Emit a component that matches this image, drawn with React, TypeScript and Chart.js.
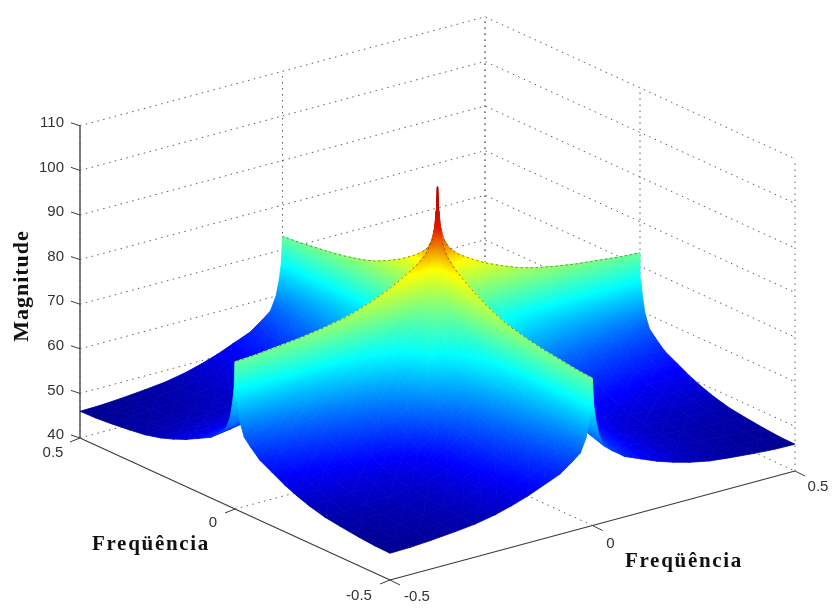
import React, { useEffect, useRef } from "react";
import { Chart, registerables } from "chart.js";

Chart.register(...registerables);

// Distance from zero frequency, one quadrant of the symmetric spectrum
const freqOffsets = [0, 0.003, 0.008, 0.016, 0.03, 0.05, 0.08, 0.12, 0.16, 0.2, 0.24, 0.29, 0.34, 0.4, 0.45, 0.5];

// Magnitude, rows and columns follow freqOffsets
const magnitudeQuadrant = [
  [100, 94.5, 90.5, 87.8, 85.5, 83.8, 82, 80, 78.4, 77, 76, 75.1, 74.4, 73.8, 73.3, 73],
  [94.5, 88, 85, 82.3, 80, 78.3, 76.5, 74.5, 72.9, 71.5, 70.5, 69.6, 68.9, 68.3, 67.8, 67],
  [90.5, 85, 83, 78.3, 76, 74.3, 72.5, 70.5, 68.9, 67.5, 66.5, 65.6, 64.9, 64.3, 63.8, 63.5],
  [87.8, 82.3, 78.3, 78, 75.5, 72.8, 71, 69, 67.4, 66, 65, 64, 63, 62, 61, 60],
  [85.5, 80, 76, 75.5, 74.5, 72.5, 70, 67.5, 66, 64.5, 63.3, 62, 61, 59.5, 58.2, 57],
  [83.8, 78.3, 74.3, 72.8, 72.5, 71, 68.8, 65.5, 63.5, 62, 60.8, 59.5, 58.5, 57.5, 56.4, 55.5],
  [82, 76.5, 72.5, 71, 70, 68.8, 67.5, 63.5, 61, 59.3, 58, 57, 56, 55, 54.2, 53.5],
  [80, 74.5, 70.5, 69, 67.5, 65.5, 63.5, 61.5, 58.8, 56.8, 55.5, 54.5, 53.8, 53, 52.5, 52],
  [78.4, 72.9, 68.9, 67.4, 66, 63.5, 61, 58.8, 56.5, 54.5, 53, 52.3, 51.8, 51.2, 50.8, 50.5],
  [77, 71.5, 67.5, 66, 64.5, 62, 59.3, 56.8, 54.5, 52.5, 51.3, 50.7, 50.3, 49.9, 49.6, 49.3],
  [76, 70.5, 66.5, 65, 63.3, 60.8, 58, 55.5, 53, 51.3, 50.3, 49.6, 49.2, 48.9, 48.6, 48.3],
  [75.1, 69.6, 65.6, 64, 62, 59.5, 57, 54.5, 52.3, 50.7, 49.6, 48.8, 48.3, 48, 47.7, 47.4],
  [74.4, 68.9, 64.9, 63, 61, 58.5, 56, 53.8, 51.8, 50.3, 49.2, 48.3, 47.8, 47.4, 47.2, 46.9],
  [73.8, 68.3, 64.3, 62, 59.5, 57.5, 55, 53, 51.2, 49.9, 48.9, 48, 47.4, 47, 46.7, 46.4],
  [73.3, 67.8, 63.8, 61, 58.2, 56.4, 54.2, 52.5, 50.8, 49.6, 48.6, 47.7, 47.2, 46.7, 46.5, 46.1],
  [73, 67, 63.5, 60, 57, 55.5, 53.5, 52, 50.5, 49.3, 48.3, 47.4, 46.9, 46.4, 46.1, 46],
];

const magnitudeTicks = [40, 50, 60, 70, 80, 90, 100, 110];
const freqTicks = [-0.5, 0, 0.5];
const magnitudeTitle = "Magnitude";
const freqTitle = "Freqüência";

const WIDTH = 833;
const HEIGHT = 608;
const Z_MIN = 40;
const Z_MAX = 110;

// Fixed 3-D view of the box, in the chart's plane
const project = (fx: number, fy: number, z: number) => ({
  x: 390 + (fx + 0.5) * 405 - (fy + 0.5) * 310,
  y: 580 - (fx + 0.5) * 109 - (fy + 0.5) * 142 - (z - Z_MIN) * 4.46,
});

// Colour ramp: magnitude at which each jet colour sits in the picture
const rampMagnitudes = [45, 51.5, 67, 82, 91, 100];
const rampColors = ["rgb(0,0,125)", "rgb(0,0,255)", "rgb(0,255,255)", "rgb(255,255,0)", "rgb(225,20,0)", "rgb(170,0,0)"];
const COLOR_MIN = rampMagnitudes[0];
const COLOR_MAX = rampMagnitudes[rampMagnitudes.length - 1];

type V = { fx: number; fy: number; z: number };

function triangleFill(chart: any, tri: V[]) {
  const sx = chart.scales.x;
  const sy = chart.scales.y;
  const pts = tri.map((v) => {
    const p = project(v.fx, v.fy, v.z);
    return { x: sx.getPixelForValue(p.x), y: sy.getPixelForValue(p.y), z: v.z };
  });
  const [a, b, c] = pts;
  if (!pts.every((p) => isFinite(p.x) && isFinite(p.y))) return "#000";
  const det = (b.x - a.x) * (c.y - a.y) - (c.x - a.x) * (b.y - a.y);
  const gx = ((b.z - a.z) * (c.y - a.y) - (c.z - a.z) * (b.y - a.y)) / det;
  const gy = ((b.x - a.x) * (c.z - a.z) - (c.x - a.x) * (b.z - a.z)) / det;
  const g2 = gx * gx + gy * gy;
  let grad;
  if (!isFinite(g2) || g2 < 1e-7) {
    // level triangle: a gradient wide enough to read as one colour
    const t = ((a.z + b.z + c.z) / 3 - COLOR_MIN) / (COLOR_MAX - COLOR_MIN);
    grad = chart.ctx.createLinearGradient(a.x - t * 20000, a.y, a.x + (1 - t) * 20000, a.y);
  } else {
    grad = chart.ctx.createLinearGradient(
      a.x + (gx / g2) * (COLOR_MIN - a.z),
      a.y + (gy / g2) * (COLOR_MIN - a.z),
      a.x + (gx / g2) * (COLOR_MAX - a.z),
      a.y + (gy / g2) * (COLOR_MAX - a.z)
    );
  }
  rampMagnitudes.forEach((m, k) => grad.addColorStop((m - COLOR_MIN) / (COLOR_MAX - COLOR_MIN), rampColors[k]));
  return grad;
}

const signedFreqs = () => {
  const out: { f: number; i: number }[] = [];
  for (let i = freqOffsets.length - 1; i > 0; i--) out.push({ f: -freqOffsets[i], i });
  for (let i = 0; i < freqOffsets.length; i++) out.push({ f: freqOffsets[i], i });
  return out;
};

function surfaceDatasets() {
  const g = signedFreqs();
  const quads: { key: number; corners: V[] }[] = [];
  for (let a = 0; a < g.length - 1; a++) {
    for (let b = 0; b < g.length - 1; b++) {
      const v = (p: number, q: number): V => ({
        fx: g[p].f,
        fy: g[q].f,
        z: magnitudeQuadrant[g[p].i][g[q].i],
      });
      quads.push({
        key: g[a].f + g[a + 1].f + g[b].f + g[b + 1].f,
        corners: [v(a, b), v(a + 1, b), v(a + 1, b + 1), v(a, b + 1)],
      });
    }
  }
  // nearest quad first: chart.js paints the later datasets underneath
  quads.sort((p, q) => p.key - q.key);
  const sets: any[] = [];
  quads.forEach(({ corners }) => {
    [
      [corners[0], corners[1], corners[2]],
      [corners[0], corners[2], corners[3]],
    ].forEach((tri) => {
      const paint = (c: any) => triangleFill(c.chart, tri);
      sets.push({
        data: [...tri, tri[0]].map((v) => project(v.fx, v.fy, v.z)),
        fill: "shape",
        backgroundColor: paint,
        borderColor: paint,
        borderWidth: 0.8,
        pointRadius: 0,
        tension: 0,
      });
    });
  });
  return sets;
}

const segment = (pts: { x: number; y: number }[], color: string, width: number, dash: number[] = []) => ({
  data: pts,
  fill: false,
  borderColor: color,
  borderWidth: width,
  borderDash: dash,
  pointRadius: 0,
  tension: 0,
});

function ridgeDatasets() {
  const outer = freqOffsets.slice(3);
  const sets: any[] = [];
  const ridge = outer.map((t, k) => ({ t, z: magnitudeQuadrant[0][k + 3] }));
  [1, -1].forEach((sign) => {
    sets.push(segment(ridge.map((r) => project(0, sign * r.t, r.z)), "rgba(70,55,35,0.6)", 1, [2, 3]));
    sets.push(segment(ridge.map((r) => project(sign * r.t, 0, r.z)), "rgba(70,55,35,0.6)", 1, [2, 3]));
  });
  return sets;
}

function boxDatasets() {
  const sets: any[] = [];
  const dotted = "#5c5c5c";
  const dash = [1.5, 4.5];
  const lo = freqTicks[0];
  const hi = freqTicks[freqTicks.length - 1];
  // back walls: magnitude lines
  magnitudeTicks.forEach((z) => {
    sets.push(segment([project(lo, hi, z), project(hi, hi, z), project(hi, lo, z)], dotted, 1, dash));
  });
  // wall verticals
  freqTicks.forEach((f) => {
    sets.push(segment([project(f, hi, Z_MIN), project(f, hi, Z_MAX)], dotted, 1, dash));
    sets.push(segment([project(hi, f, Z_MIN), project(hi, f, Z_MAX)], dotted, 1, dash));
  });
  // floor lines
  sets.push(segment([project(0, lo, Z_MIN), project(0, hi, Z_MIN)], dotted, 1, dash));
  sets.push(segment([project(lo, 0, Z_MIN), project(hi, 0, Z_MIN)], dotted, 1, dash));
  // solid axes
  const axis = "#3a3a3a";
  sets.push(segment([project(lo, hi, Z_MIN), project(lo, hi, Z_MAX)], axis, 1.3));
  sets.push(segment([project(lo, hi, Z_MIN), project(lo, lo, Z_MIN)], axis, 1.2));
  sets.push(segment([project(lo, lo, Z_MIN), project(hi, lo, Z_MIN)], axis, 1.2));
  // tick marks
  magnitudeTicks.forEach((z) => {
    const p = project(lo, hi, z);
    sets.push(segment([p, { x: p.x - 9, y: p.y - 3 }], axis, 1));
  });
  freqTicks.forEach((f) => {
    const l = project(lo, f, Z_MIN);
    sets.push(segment([l, { x: l.x - 10, y: l.y + 4 }], axis, 1));
    const r = project(f, lo, Z_MIN);
    sets.push(segment([r, { x: r.x + 10, y: r.y + 5 }], axis, 1));
  });
  return sets;
}

const textPlugin = {
  id: "boxText",
  afterDatasetsDraw(chart: any) {
    const { ctx, scales } = chart;
    const at = (p: { x: number; y: number }) => ({
      x: scales.x.getPixelForValue(p.x),
      y: scales.y.getPixelForValue(p.y),
    });
    const lo = freqTicks[0];
    ctx.save();
    ctx.fillStyle = "#333";
    ctx.font = '15px "Liberation Sans"';
    ctx.textBaseline = "middle";
    ctx.textAlign = "right";
    magnitudeTicks.forEach((z) => {
      const p = at(project(lo, freqTicks[2], z));
      ctx.fillText(String(z), p.x - 16, p.y - 3);
    });
    ctx.textAlign = "center";
    const leftShift = [
      [-31, 16],
      [-22, 14],
      [-27, 15],
    ];
    const rightShift = [
      [27, 17],
      [18, 18],
      [23, 16],
    ];
    freqTicks.forEach((f, k) => {
      const l = at(project(lo, f, Z_MIN));
      ctx.fillText(String(f), l.x + leftShift[k][0], l.y + leftShift[k][1]);
      const r = at(project(f, lo, Z_MIN));
      ctx.fillText(String(f), r.x + rightShift[k][0], r.y + rightShift[k][1]);
    });
    ctx.fillStyle = "#111";
    ctx.font = 'bold 21px "Liberation Serif"';
    ctx.letterSpacing = "1.7px";
    ctx.fillText(freqTitle, 151, 545);
    ctx.fillText(freqTitle, 684, 562);
    ctx.translate(22, 286);
    ctx.rotate(-Math.PI / 2);
    ctx.letterSpacing = "1px";
    ctx.font = 'bold 22px "Liberation Serif"';
    ctx.fillText(magnitudeTitle, 0, 0);
    ctx.restore();
  },
};

export default function App() {
  const ref = useRef<HTMLCanvasElement>(null);
  useEffect(() => {
    const chart = new Chart(ref.current as HTMLCanvasElement, {
      type: "line",
      data: {
        datasets: [...ridgeDatasets(), ...surfaceDatasets(), ...boxDatasets()] as any,
      },
      options: {
        animation: false,
        responsive: false,
        events: [],
        layout: { padding: 0 },
        plugins: { legend: { display: false }, tooltip: { enabled: false }, title: { display: false } },
        scales: {
          x: { type: "linear", min: 0, max: WIDTH, display: false },
          y: { type: "linear", min: 0, max: HEIGHT, reverse: true, display: false },
        },
      },
      plugins: [textPlugin],
    });
    return () => chart.destroy();
  }, []);
  return (
    <div style={{ position: "absolute", left: 0, top: 0, width: WIDTH, height: HEIGHT, background: "#fff" }}>
      <canvas ref={ref} width={WIDTH} height={HEIGHT} style={{ display: "block" }} />
    </div>
  );
}
